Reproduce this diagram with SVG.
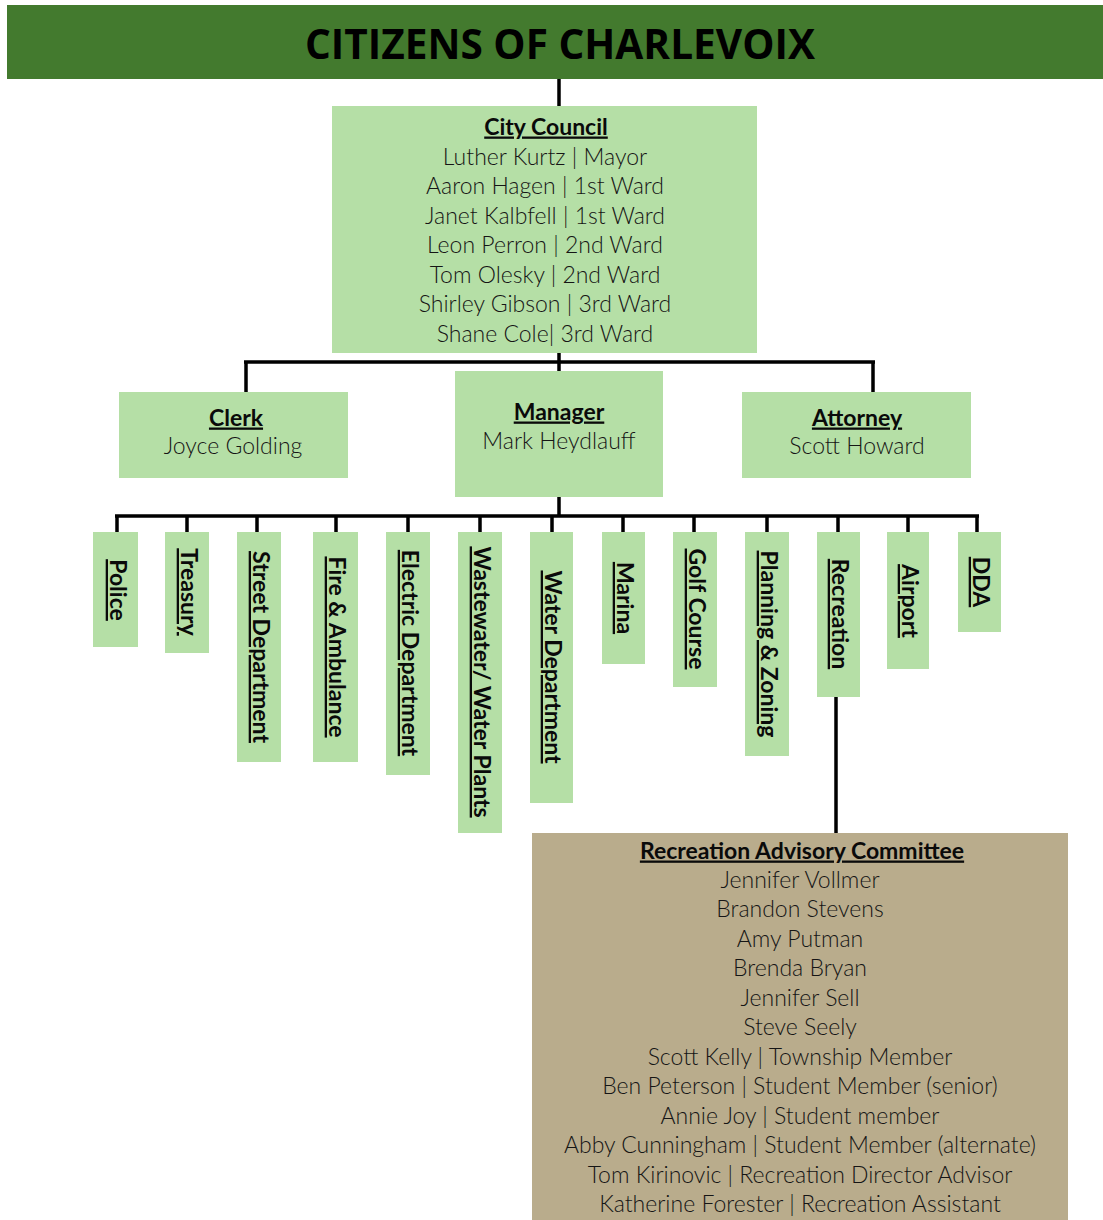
<svg xmlns="http://www.w3.org/2000/svg" width="1103" height="1220" viewBox="0 0 1103 1220">
<style>
.box{fill:#b5dfa6}
.tan{fill:#b9ac8c}
.t{font-family:Lato,"Open Sans","Liberation Sans",sans-serif;font-size:23px;fill:#151515;text-anchor:middle;font-weight:300}
.h{font-family:Lato,"Open Sans","Liberation Sans",sans-serif;font-size:23px;fill:#0a0a0a;text-anchor:middle;font-weight:700;text-decoration:underline}
.v{font-family:Lato,"Open Sans","Liberation Sans",sans-serif;font-size:23px;fill:#0a0a0a;text-anchor:middle;font-weight:700;text-decoration:underline}
.ln{stroke:#000;stroke-width:3.5;fill:none}
</style>
<rect width="1103" height="1220" fill="#fff"/>
<g id="header">
<rect x="7" y="5" width="1096" height="74" fill="#437a2e"/>
<text x="560" y="59" font-family="Open Sans,Lato,Liberation Sans,sans-serif" font-weight="700" font-size="42" fill="#000" text-anchor="middle" textLength="510" lengthAdjust="spacingAndGlyphs">CITIZENS OF CHARLEVOIX</text>
</g>
<g id="connectors" class="ln">
<path d="M559 79V106"/>
<path d="M559 353V371M244 362H875M246 362V392M873 362V392"/>
<path d="M559 497V516M115 516H979"/>
<path d="M117 516V532M187 516V532M257 516V532M336 516V532M408 516V532M480 516V532M552 516V532M623 516V532M694 516V532M767 516V532M838 516V532M908 516V532M977 516V532"/>
<path d="M836 697V833"/>
</g>
<g id="council">
<rect class="box" x="332" y="106" width="425" height="247"/>
<text class="h" x="546" y="134.5">City Council </text>
<text class="t" x="545" y="164.5">Luther Kurtz | Mayor</text>
<text class="t" x="545" y="194">Aaron Hagen | 1st Ward</text>
<text class="t" x="545" y="223.5">Janet Kalbfell | 1st Ward</text>
<text class="t" x="545" y="253">Leon Perron | 2nd Ward</text>
<text class="t" x="545" y="282.5">Tom Olesky | 2nd Ward</text>
<text class="t" x="545" y="312">Shirley Gibson | 3rd Ward</text>
<text class="t" x="545" y="341.5">Shane Cole| 3rd Ward</text>
</g>
<g id="clerk">
<rect class="box" x="119" y="392" width="229" height="86"/>
<text class="h" x="236" y="425.5">Clerk </text>
<text class="t" x="233" y="453.5">Joyce Golding</text>
</g>
<g id="manager">
<rect class="box" x="455" y="371" width="208" height="126"/>
<text class="h" x="559" y="419.5">Manager</text>
<text class="t" x="559" y="448.5">Mark Heydlauff</text>
</g>
<g id="attorney">
<rect class="box" x="742" y="392" width="229" height="86"/>
<text class="h" x="857" y="425.5">Attorney</text>
<text class="t" x="857" y="453.5">Scott Howard</text>
</g>
<g id="police"><rect class="box" x="93" y="532" width="45" height="115"/><text class="v" transform="translate(110 590) rotate(90)">Police</text></g>
<g id="treasury"><rect class="box" x="165" y="532" width="44" height="121"/><text class="v" transform="translate(181 592) rotate(90)">Treasury</text></g>
<g id="street"><rect class="box" x="237" y="532" width="44" height="230"/><text class="v" transform="translate(253 647) rotate(90)">Street Department</text></g>
<g id="fire"><rect class="box" x="313" y="532" width="45" height="230"/><text class="v" transform="translate(329 647) rotate(90)">Fire &amp; Ambulance</text></g>
<g id="electric"><rect class="box" x="386" y="532" width="44" height="243"/><text class="v" transform="translate(402 653) rotate(90)">Electric Department</text></g>
<g id="wastewater"><rect class="box" x="458" y="532" width="44" height="301"/><text class="v" transform="translate(474 682) rotate(90)">Wastewater/ Water Plants</text></g>
<g id="water"><rect class="box" x="530" y="532" width="43" height="271"/><text class="v" transform="translate(545 667) rotate(90)">Water Department</text></g>
<g id="marina"><rect class="box" x="602" y="532" width="43" height="132"/><text class="v" transform="translate(617 598) rotate(90)">Marina</text></g>
<g id="golf"><rect class="box" x="673" y="532" width="44" height="155"/><text class="v" transform="translate(689 609) rotate(90)">Golf Course</text></g>
<g id="planning"><rect class="box" x="745" y="532" width="44" height="224"/><text class="v" transform="translate(761 644) rotate(90)">Planning &amp; Zoning</text></g>
<g id="recreation"><rect class="box" x="817" y="532" width="43" height="165"/><text class="v" transform="translate(832 614) rotate(90)">Recreation</text></g>
<g id="airport"><rect class="box" x="887" y="532" width="42" height="137"/><text class="v" transform="translate(902 601) rotate(90)">Airport</text></g>
<g id="dda"><rect class="box" x="958" y="532" width="43" height="100"/><text class="v" transform="translate(973 582) rotate(90)">DDA</text></g>
<g id="rac">
<rect class="tan" x="532" y="833" width="536" height="387"/>
<text class="h" x="802" y="858.5">Recreation Advisory Committee </text>
<text class="t" x="800" y="887.5">Jennifer Vollmer</text>
<text class="t" x="800" y="917">Brandon Stevens</text>
<text class="t" x="800" y="946.5">Amy Putman</text>
<text class="t" x="800" y="976">Brenda Bryan</text>
<text class="t" x="800" y="1005.5">Jennifer Sell</text>
<text class="t" x="800" y="1035">Steve Seely</text>
<text class="t" x="800" y="1064.5">Scott Kelly | Township Member</text>
<text class="t" x="800" y="1094">Ben Peterson | Student Member (senior)</text>
<text class="t" x="800" y="1123.5">Annie Joy | Student member</text>
<text class="t" x="800" y="1153">Abby Cunningham | Student Member (alternate)</text>
<text class="t" x="800" y="1182.5">Tom Kirinovic | Recreation Director Advisor</text>
<text class="t" x="800" y="1212">Katherine Forester | Recreation Assistant</text>
</g>
</svg>
